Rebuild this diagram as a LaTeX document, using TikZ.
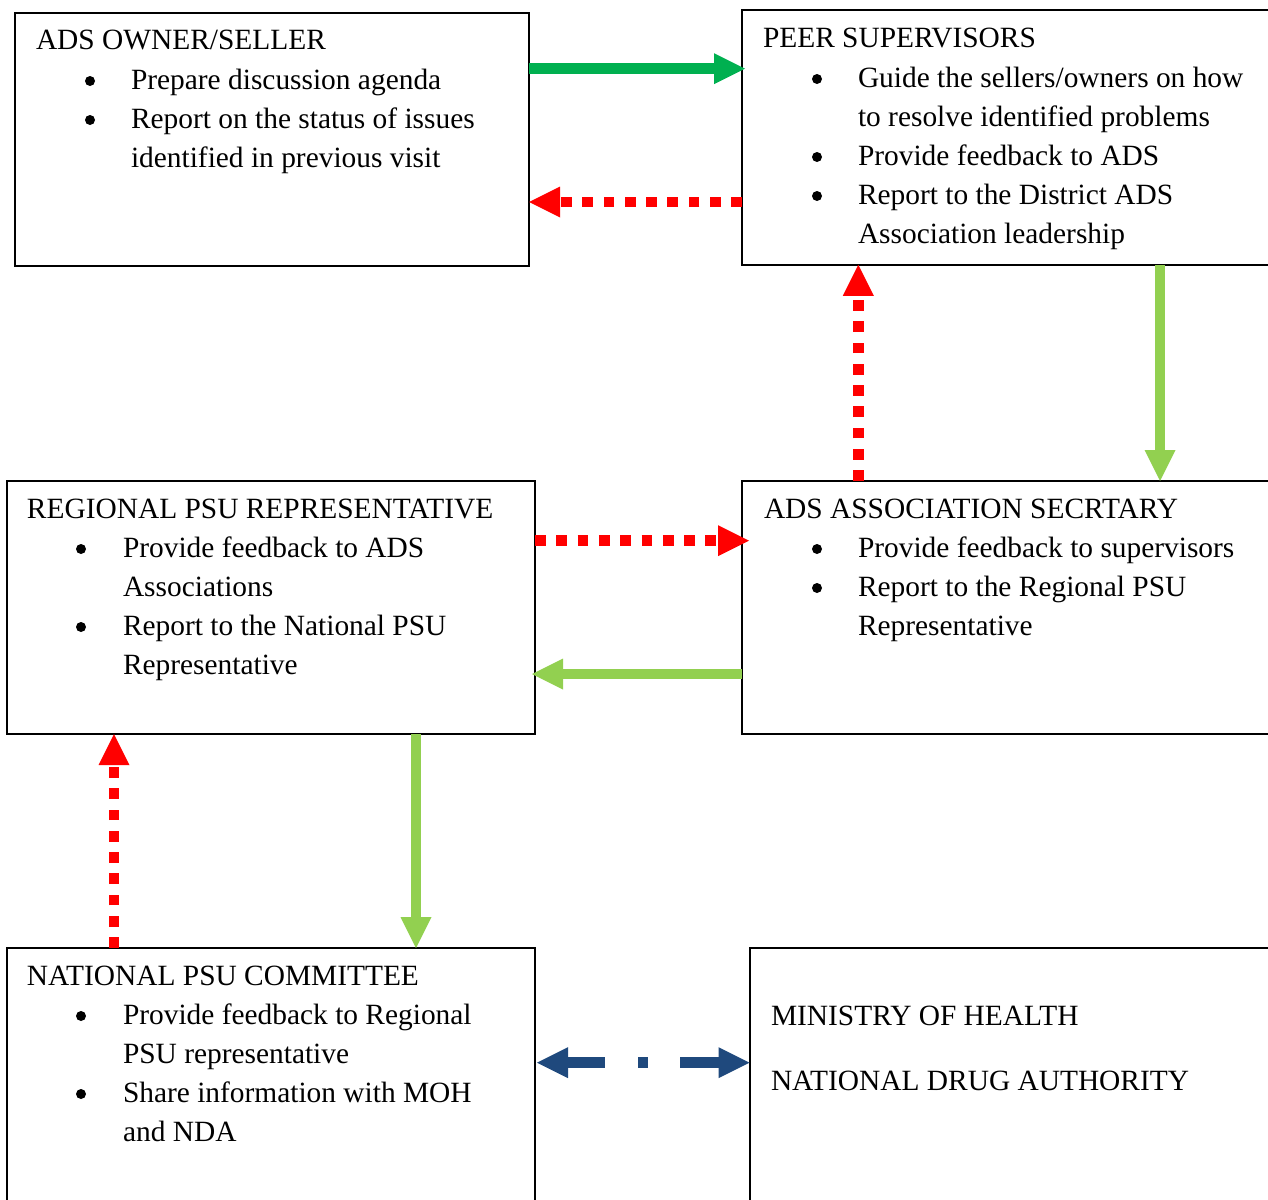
\documentclass[tikz,border=0pt]{standalone}
\usepackage{fontspec}
\setmainfont{Liberation Serif}
\usetikzlibrary{arrows.meta}
\definecolor{dkgreen}{HTML}{00B050}
\definecolor{ltgreen}{HTML}{92D050}
\definecolor{myred}{HTML}{FF0000}
\definecolor{myblue}{HTML}{1F497D}
\tikzset{
  box/.style={draw=black, line width=2pt, inner sep=0pt, outer sep=0pt, rectangle},
  txt/.style={anchor=base west, inner sep=0pt, outer sep=0pt, font=\fontsize{29.4}{35}\selectfont},
  bul/.style={circle, fill=black, draw=none, minimum size=10pt, inner sep=0pt, outer sep=0pt},
  tipA/.tip={Triangle[length=31pt,width=31pt,line width=0pt]},
  solidarrow/.style={line width=10.7pt, -tipA},
  dotarrow/.style={line width=10.7pt, draw=myred, dash pattern=on 10.7pt off 10.6pt, -tipA},
}
\newcommand{\tline}[4]{\node[txt] (#1) at (#2,#3) {#4};}
\newcommand{\bul}[3]{\node[bul] (#1) at (#2,#3-8) {};}
\begin{document}
\begin{tikzpicture}[x=1pt,y=-1pt]
\useasboundingbox (0,0) rectangle (1268,1199);
\clip (0,0) rectangle (1268,1199);
% boxes
\node[box, minimum width=514pt, minimum height=253pt] (own) at (272,139.5) {};
\node[box, minimum width=560pt, minimum height=254.5pt] (peer) at (1022,137.5) {};
\node[box, minimum width=528pt, minimum height=253pt] (reg) at (271,607.5) {};
\node[box, minimum width=560pt, minimum height=253pt] (assoc) at (1022,607.5) {};
\node[box, minimum width=528pt, minimum height=300pt] (nat) at (271,1098) {};
\node[box, minimum width=560pt, minimum height=300pt] (moh) at (1029.5,1098) {};
% box 1
\tline{h1}{36}{50}{ADS OWNER/SELLER}
\bul{b1a}{90}{89}\tline{t1a}{131}{89}{Prepare discussion agenda}
\bul{b1b}{90}{128}\tline{t1b}{131}{128}{Report on the status of issues}
\tline{t1c}{131}{167}{identified in previous visit}
% box 2
\tline{h2}{763}{48}{PEER SUPERVISORS}
\bul{b2a}{817}{87}\tline{t2a}{858}{87}{Guide the sellers/owners on how}
\tline{t2b}{858}{126}{to resolve identified problems}
\bul{b2c}{817}{165}\tline{t2c}{858}{165}{Provide feedback to ADS}
\bul{b2d}{817}{204}\tline{t2d}{858}{204}{Report to the District ADS}
\tline{t2e}{858}{243}{Association leadership}
% box 3
\tline{h3}{27}{518}{REGIONAL PSU REPRESENTATIVE}
\bul{b3a}{81}{557}\tline{t3a}{123}{557}{Provide feedback to ADS}
\tline{t3b}{123}{596}{Associations}
\bul{b3c}{81}{635}\tline{t3c}{123}{635}{Report to the National PSU}
\tline{t3d}{123}{674}{Representative}
% box 4
\tline{h4}{764}{518}{ADS ASSOCIATION SECRTARY}
\bul{b4a}{817}{557}\tline{t4a}{858}{557}{Provide feedback to supervisors}
\bul{b4b}{817}{596}\tline{t4b}{858}{596}{Report to the Regional PSU}
\tline{t4c}{858}{635}{Representative}
% box 5
\tline{h5}{27}{985}{NATIONAL PSU COMMITTEE}
\bul{b5a}{81}{1024}\tline{t5a}{123}{1024}{Provide feedback to Regional}
\tline{t5b}{123}{1063}{PSU representative}
\bul{b5c}{81}{1102}\tline{t5c}{123}{1102}{Share information with MOH}
\tline{t5d}{123}{1141}{and NDA}
% box 6
\tline{h6}{771}{1025}{MINISTRY OF HEALTH}
\tline{t6a}{771}{1090}{NATIONAL DRUG AUTHORITY}
% guide coordinates
\coordinate (yA) at (0,68.7);
\coordinate (yB) at (0,202);
\coordinate (xC) at (858.3,0);
\coordinate (xD) at (1160,0);
\coordinate (yE) at (0,540.7);
\coordinate (yF) at (0,674);
\coordinate (xG) at (114,0);
\coordinate (xH) at (416,0);
\coordinate (yI) at (0,1062.7);
% connectors
\draw[solidarrow, draw=dkgreen] (own.east |- yA) -- ([xshift=3pt]peer.west |- yA);
\draw[dotarrow] (peer.west |- yB) -- (own.east |- yB);
\draw[dotarrow] (xC |- assoc.north) -- (xC |- peer.south);
\draw[solidarrow, draw=ltgreen] (xD |- peer.south) -- (xD |- assoc.north);
\draw[dotarrow] (reg.east |- yE) -- ([xshift=7pt]assoc.west |- yE);
\draw[solidarrow, draw=ltgreen] (assoc.west |- yF) -- ([xshift=-3pt]reg.east |- yF);
\draw[dotarrow] (xG |- nat.north) -- (xG |- reg.south);
\draw[solidarrow, draw=ltgreen] (xH |- reg.south) -- (xH |- nat.north);
\draw[line width=11pt, draw=myblue, dash pattern=on 37pt off 33pt on 10pt off 32pt on 39pt off 100pt, tipA-tipA] ([xshift=2pt]nat.east |- yI) -- (moh.west |- yI);
\end{tikzpicture}
\end{document}
